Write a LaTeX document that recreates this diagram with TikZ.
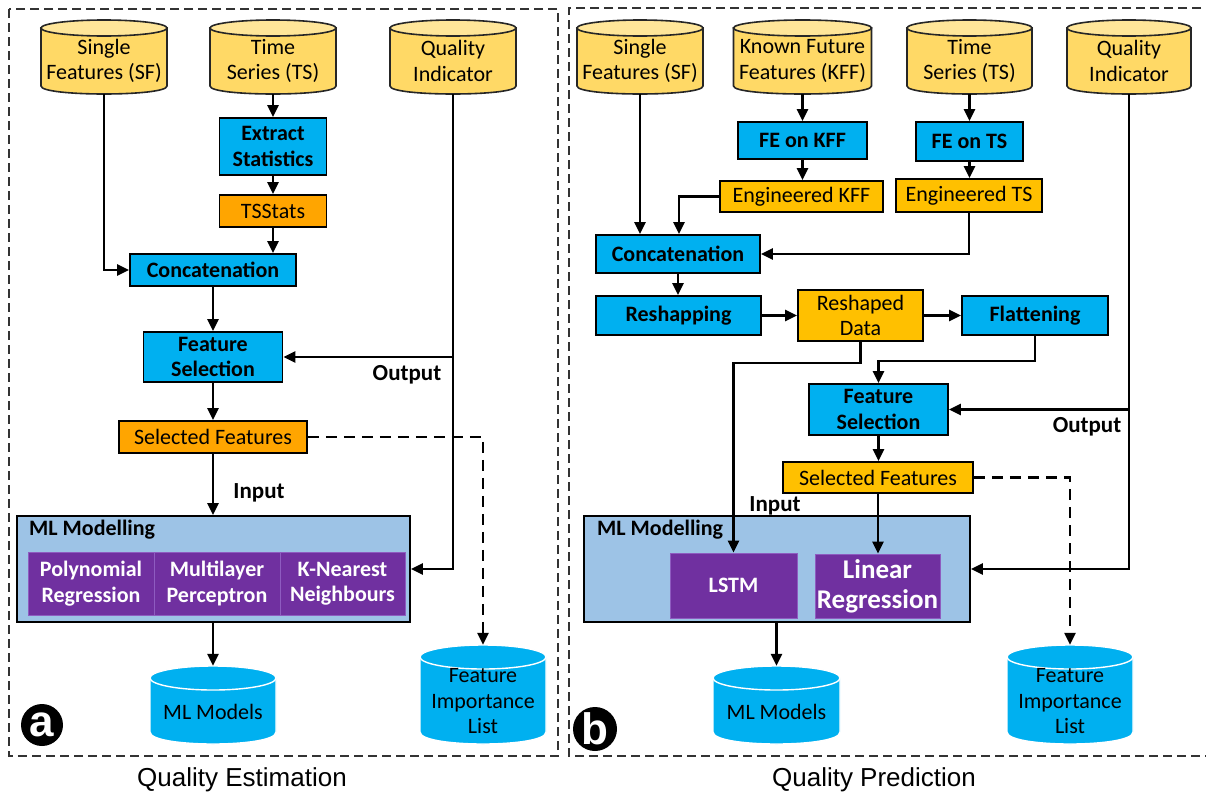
\documentclass[tikz,border=0pt]{standalone}
\usepackage{fontspec}
\setmainfont{Carlito}
\newfontfamily\capfont{Liberation Sans}
\usetikzlibrary{arrows.meta,calc}
\definecolor{cblue}{HTML}{00B0F0}
\definecolor{corA}{HTML}{FFA500}
\definecolor{corB}{HTML}{FFC000}
\definecolor{cylbody}{HTML}{FFD966}
\definecolor{cyltop}{HTML}{FFE699}
\definecolor{mlbg}{HTML}{9DC3E6}
\definecolor{cpurple}{HTML}{7030A0}
\definecolor{cpline}{HTML}{8E5CC0}
\newcommand\fsz{\fontsize{22}{25.5}\selectfont}
\newcommand\fszL{\fontsize{27}{30}\selectfont}
\tikzset{
  arr/.style={-{Triangle[length=12pt,width=11pt]}, line width=2.4pt},
  darr/.style={arr, dash pattern=on 11pt off 7pt},
  outer/.style={draw=black!80, line width=1.6pt, dash pattern=on 9pt off 5pt},
  bbox/.style={rectangle, draw=black, line width=1.8pt, fill=cblue, font=\bfseries\fsz, align=center, inner sep=0pt},
  obox/.style={rectangle, draw=black, line width=1.8pt, fill=corA, font=\fsz, align=center, inner sep=0pt},
  mlbox/.style={rectangle, draw=black, line width=1.8pt, fill=mlbg, inner sep=0pt},
  mltitle/.style={font=\bfseries\fsz, inner sep=0pt},
  pcell/.style={rectangle, fill=cpurple, draw=cpline, line width=0.8pt, text=white, font=\bfseries\fsz, align=center, inner sep=0pt},
  cylshape/.style={rectangle, inner sep=0pt},
  cyltext/.style={font=\fsz, align=center, inner sep=0pt},
  lbl/.style={font=\bfseries\fontsize{23}{26}\selectfont, inner sep=0pt},
  capt/.style={font=\capfont\fontsize{26}{30}\selectfont, inner sep=0pt},
  badge/.style={circle, fill=black, text=white, inner sep=0pt, font=\capfont\bfseries\fontsize{44}{44}\selectfont}
}
% yellow cylinder: name, cx, ytop, ybot, rx, text
\newcommand\cylY[6]{%
  \path[fill=cylbody, draw=black!85, line width=1.6pt] ({#2-#5},{#3+8}) -- ({#2-#5},{#4-8}) .. controls ({#2-#5},{#4+2.67}) and ({#2+#5},{#4+2.67}) .. ({#2+#5},{#4-8}) -- ({#2+#5},{#3+8}) -- cycle;
  \path[fill=cyltop, draw=black!85, line width=1.6pt] (#2,{#3+8}) ellipse [x radius=#5, y radius=8];
  \node[cylshape, minimum width={2*#5}, minimum height={#4-#3}] (#1) at (#2,{(#3+#4)/2}) {};
  \node[cyltext, yshift=-4pt] (#1-t) at (#1.center) {#6};
}
% blue cylinder
\newcommand\cylB[6]{%
  \path[fill=cblue, draw=white, line width=1.4pt] ({#2-#5},{#3+12}) -- ({#2-#5},{#4-12}) .. controls ({#2-#5},{#4+4}) and ({#2+#5},{#4+4}) .. ({#2+#5},{#4-12}) -- ({#2+#5},{#3+12}) -- cycle;
  \path[fill=cblue, draw=white, line width=1.4pt] (#2,{#3+12}) ellipse [x radius=#5, y radius=12];
  \node[cylshape, minimum width={2*#5}, minimum height={#4-#3}] (#1) at (#2,{(#3+#4)/2}) {};
  \node[cyltext, yshift=-7pt] (#1-t) at (#1.center) {#6};
}
\begin{document}
\begin{tikzpicture}[x=1pt,y=-1pt]
\useasboundingbox (0,0) rectangle (1206,795);
\fill[white] (0,0) rectangle (1206,795);
% ---------- panel a ----------
\draw[outer] (9,9) rectangle (558,756);
\cylY{sfA}{104}{20}{94}{63}{Single\\Features (SF)}
\cylY{tsA}{273}{20}{94}{63}{Time\\Series (TS)}
\cylY{qiA}{453}{20}{94}{63}{Quality\\Indicator}
\node[bbox, minimum width=107, minimum height=57] (ext) at (273,146.5) {Extract\\Statistics};
\node[obox, minimum width=107, minimum height=32] (tss) at (273,211) {TSStats};
\node[bbox, minimum width=166, minimum height=32] (concA) at (213,270) {Concatenation};
\node[bbox, minimum width=139, minimum height=50] (fsA) at (213,357) {Feature\\Selection};
\node[obox, minimum width=188, minimum height=32] (selA) at (213,437) {Selected Features};
\node[mlbox, minimum width=393, minimum height=106] (mlA) at (213.5,569) {};
\node[mltitle, anchor=west] (mltA) at (29,530) {ML Modelling};
\node[pcell, minimum width=126, minimum height=63] (polyA) at (91,583.5) {Polynomial\\Regression};
\node[pcell, minimum width=126, minimum height=63] (mlpA) at (217,583.5) {Multilayer\\Perceptron};
\node[pcell, minimum width=125, minimum height=63] (knnA) at (342.5,583.5) {K-Nearest\\Neighbours};
\cylB{mmA}{213}{666}{744}{63}{ML Models}
\cylB{filA}{483}{645}{744}{63}{Feature\\Importance\\List}
\node[lbl] (inA) at (259,493) {Input};
\node[lbl] (outA) at (407,375) {Output};
\draw[arr] (sfA.south) |- (concA.west);
\draw[arr] (tsA.south) -- (ext.north);
\draw[arr] (ext) -- (tss);
\draw[arr] (tss.south) -- (tss.south |- concA.north);
\draw[arr] (concA.south) -- (fsA.north);
\draw[arr] (qiA.south) |- (mlA.east);
\draw[arr] (qiA.south |- fsA.east) -- (fsA.east);
\draw[arr] (fsA) -- (selA);
\draw[arr] (selA.south) -- (selA.south |- mlA.north);
\draw[arr] (mlA.south -| mmA.north) -- (mmA.north);
\draw[darr] (selA.east) -| (filA.north);
\node[badge, minimum size=42] (bA) at (42,725) {a};
\node[capt] (capA) at (242,780) {Quality Estimation};
% ---------- panel b ----------
\draw[outer] (1215,8) -- (569,8) -- (569,756) -- (1215,756);
\cylY{sfB}{640}{20}{94}{63}{Single\\Features (SF)}
\cylY{kffB}{802.5}{20}{94}{69}{Known Future\\Features (KFF)}
\cylY{tsB}{969.5}{20}{94}{62.5}{Time\\Series (TS)}
\cylY{qiB}{1129}{20}{94}{62}{Quality\\Indicator}
\node[bbox, minimum width=129, minimum height=37] (feK) at (802.5,140.5) {FE on KFF};
\node[bbox, minimum width=107, minimum height=39] (feT) at (969.5,141.5) {FE on TS};
\node[obox, fill=corB, minimum width=163, minimum height=31] (engK) at (801.5,196.5) {Engineered KFF};
\node[obox, fill=corB, minimum width=146, minimum height=33] (engT) at (969,195.5) {Engineered TS};
\node[bbox, minimum width=164, minimum height=38] (concB) at (678,254) {Concatenation};
\node[bbox, minimum width=165, minimum height=39] (reshp) at (678.5,315.5) {Reshapping};
\node[obox, fill=corB, minimum width=125, minimum height=51] (rdata) at (860.5,315.5) {Reshaped\\Data};
\node[bbox, minimum width=146, minimum height=39] (flat) at (1035,315.5) {Flattening};
\node[bbox, minimum width=139, minimum height=51] (fsB) at (878.5,409.5) {Feature\\Selection};
\node[obox, fill=corB, minimum width=190, minimum height=31] (selB) at (878,477.5) {Selected Features};
\node[mlbox, minimum width=386, minimum height=106] (mlB) at (777,569) {};
\node[mltitle, anchor=west] (mltB) at (597,530) {ML Modelling};
\node[pcell, minimum width=127, minimum height=65] (lstm) at (733.5,585.5) {LSTM};
\node[pcell, font=\bfseries\fszL, minimum width=125, minimum height=64] (linreg) at (877.5,586) {Linear\\Regression};
\cylB{mmB}{776.5}{666}{744}{63.5}{ML Models}
\cylB{filB}{1070}{645}{744}{63}{Feature\\Importance\\List}
\node[lbl] (inB) at (775,506) {Input};
\node[lbl] (outB) at (1087,427) {Output};
\draw[arr] (sfB.south) -- (sfB.south |- concB.north);
\draw[arr] (kffB.south) -- (kffB.south |- feK.north);
\draw[arr] (feK.south) -- (feK.south |- engK.north);
\draw[arr] (engK.west) -| ([xshift=1pt]concB.north);
\draw[arr] (tsB.south) -- (feT.north);
\draw[arr] (feT.south) -- (feT.south |- engT.north);
\draw[arr] (engT.south) |- (concB.east);
\draw[arr] (concB.south) -- (concB.south |- reshp.north);
\draw[arr] (reshp.east) -- (rdata.west);
\draw[arr] (rdata.east) -- (flat.west);
\draw[arr] (rdata.south) -- ++(0,21) -| (lstm.north);
\draw[arr] (flat.south) -- ++(0,25) -| (fsB.north);
\draw[arr] (qiB.south) |- (mlB.east);
\draw[arr] (qiB.south |- fsB.east) -- (fsB.east);
\draw[arr] (fsB.south) -- (fsB.south |- selB.north);
\draw[arr] (selB.south) -- (selB.south |- linreg.north);
\draw[darr] (selB.east) -| (filB.north);
\draw[arr] (mlB.south -| mmB.north) -- (mmB.north);
\node[badge, minimum size=44] (bB) at (595,729) {b};
\node[capt] (capB) at (874,780) {Quality Prediction};
\end{tikzpicture}
\end{document}
